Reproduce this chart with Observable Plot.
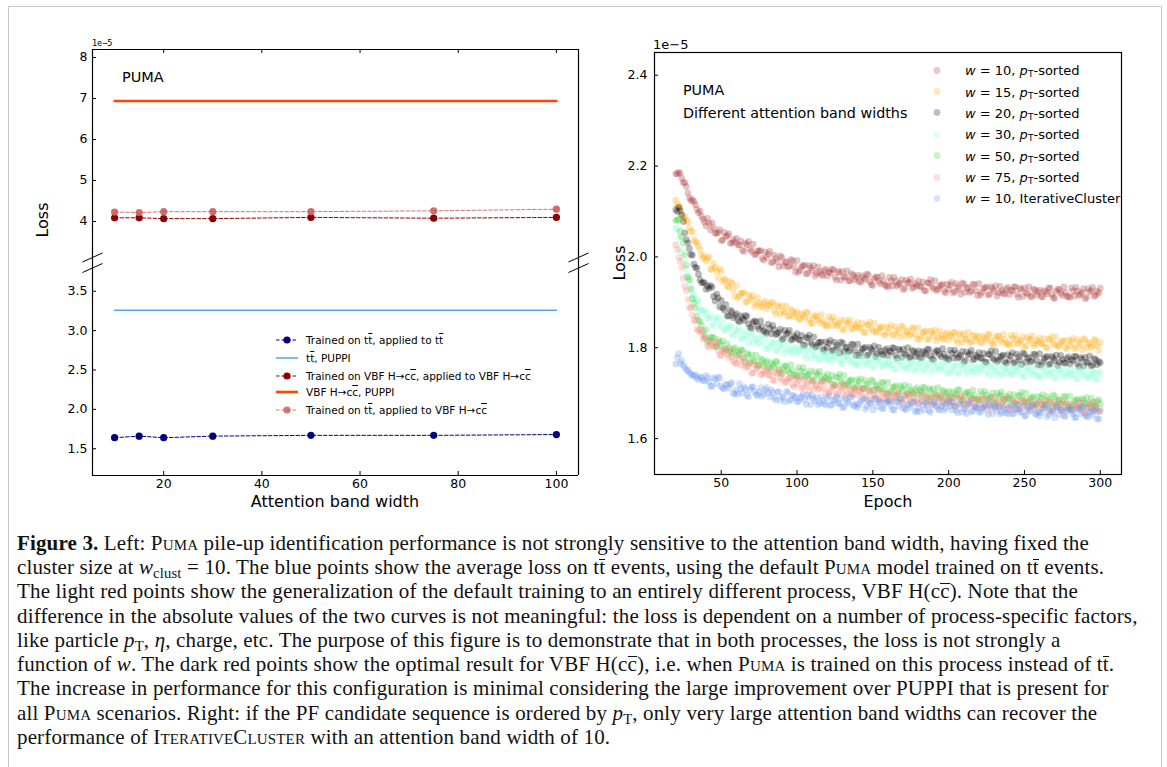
<!DOCTYPE html>
<html>
<head>
<meta charset="utf-8">
<script src="https://cdn.jsdelivr.net/npm/d3@7"></script>
<script src="https://cdn.jsdelivr.net/npm/@observablehq/plot@0.6"></script>
<style>
  html, body { margin: 0; padding: 0; background: #fff; }
  body { width: 1167px; height: 767px; overflow: hidden; position: relative; font-family: "DejaVu Sans", sans-serif; color: #000; }
  .abs { position: absolute; white-space: nowrap; }
  .ov { text-decoration: overline; }
  .ovc { display: inline-block; border-top: 1px solid #111; line-height: 0.68em; }
  .cap { position: absolute; left: 17px; font-family: "Liberation Serif", "DejaVu Serif", serif; font-size: 21px; letter-spacing: 0.15px; line-height: 24px; white-space: nowrap; color: #111; }
  .sc { font-variant: small-caps; }
  .leg { position: absolute; font-size: 10.5px; white-space: nowrap; display: flex; align-items: center; transform: translateY(-50%); }
  .rleg { position: absolute; font-size: 13px; white-space: nowrap; display: flex; align-items: center; transform: translateY(-50%); }
  sub { font-size: 70%; vertical-align: -0.25em; line-height: 0; }
</style>
</head>
<body>
<div class="abs" style="left:8px;top:6px;width:1152px;height:800px;border:1px solid #c9c9c9;"></div>
<div id="lt" class="abs" style="left:52px;top:44px;"></div>
<div id="lb" class="abs" style="left:52px;top:262px;"></div>
<div id="rp" class="abs" style="left:614px;top:47px;"></div>

<div class="abs" style="left:92px;top:38px;font-family:'DejaVu Sans Mono',monospace;font-size:8.5px;">1e−5</div>
<div class="abs" style="left:653px;top:37px;font-size:13px;">1e−5</div>

<div class="abs" style="left:122px;top:69px;font-size:14.5px;">PUMA</div>
<div class="abs" style="left:683px;top:82px;font-size:14.3px;">PUMA</div>
<div class="abs" style="left:683px;top:105px;font-size:14.3px;">Different attention band widths</div>

<div class="abs" style="left:42px;top:220px;font-size:16px;transform:translate(-50%,-50%) rotate(-90deg);">Loss</div>
<div class="abs" style="left:619px;top:263px;font-size:16px;transform:translate(-50%,-50%) rotate(-90deg);">Loss</div>
<div class="abs" style="left:335px;top:501px;font-size:16px;transform:translate(-50%,-50%);">Attention band width</div>
<div class="abs" style="left:888px;top:501px;font-size:16px;transform:translate(-50%,-50%);">Epoch</div>

<div id="leftLegend"></div>
<div id="rightLegend"></div>

<div class="cap" style="top:531px;"><b>Figure 3.</b> Left: <span class="sc">Puma</span> pile-up identification performance is not strongly sensitive to the attention band width, having fixed the</div>
<div class="cap" style="top:555px;">cluster size at <i>w</i><sub>clust</sub> = 10. The blue points show the average loss on t<span class="ovc">t</span> events, using the default <span class="sc">Puma</span> model trained on t<span class="ovc">t</span> events.</div>
<div class="cap" style="top:579px;">The light red points show the generalization of the default training to an entirely different process, VBF H(c<span class="ovc">c</span>). Note that the</div>
<div class="cap" style="top:604px;">difference in the absolute values of the two curves is not meaningful: the loss is dependent on a number of process-specific factors,</div>
<div class="cap" style="top:628px;">like particle <i>p</i><sub>T</sub>, <i>η</i>, charge, etc. The purpose of this figure is to demonstrate that in both processes, the loss is not strongly a</div>
<div class="cap" style="top:652px;">function of <i>w</i>. The dark red points show the optimal result for VBF H(c<span class="ovc">c</span>), i.e. when <span class="sc">Puma</span> is trained on this process instead of t<span class="ovc">t</span>.</div>
<div class="cap" style="top:676px;">The increase in performance for this configuration is minimal considering the large improvement over PUPPI that is present for</div>
<div class="cap" style="top:701px;">all <span class="sc">Puma</span> scenarios. Right: if the PF candidate sequence is ordered by <i>p</i><sub>T</sub>, only very large attention band widths can recover the</div>
<div class="cap" style="top:725px;">performance of <span class="sc">IterativeCluster</span> with an attention band width of 10.</div>

<script>
// ---------------- Left panel data ----------------
const bandWidths = [10, 15, 20, 30, 50, 75, 100];
const lossTTonTT   = [1.64, 1.66, 1.64, 1.66, 1.67, 1.67, 1.68];
const lossVBFonVBF = [4.09, 4.09, 4.07, 4.07, 4.10, 4.08, 4.10];
const lossTTonVBF  = [4.23, 4.22, 4.24, 4.24, 4.24, 4.26, 4.30];
const puppiTT  = 3.26;
const puppiVBF = 6.94;
const leftXTicks = [20, 40, 60, 80, 100];
const leftTopYTicks = [4, 5, 6, 7, 8];
const leftBotYTicks = [1.5, 2.0, 2.5, 3.0, 3.5];
const leftLegendLabels = [
  "Trained on t<span class='ov'>t</span>, applied to t<span class='ov'>t</span>",
  "t<span class='ov'>t</span>, PUPPI",
  "Trained on VBF H→c<span class='ov'>c</span>, applied to VBF H→c<span class='ov'>c</span>",
  "VBF H→c<span class='ov'>c</span>, PUPPI",
  "Trained on t<span class='ov'>t</span>, applied to VBF H→c<span class='ov'>c</span>"
];

// ---------------- Right panel data (loss in units of 1e-5) ----------------
// even epochs 20,22,...,300 and odd epochs 21,23,...,299
const epochsEven = d3.range(20, 301, 2);
const epochsOdd = d3.range(21, 300, 2);
const w10ptEven = [
2.183,2.186,2.173,2.163,2.141,2.124,2.122,2.105,2.101,2.083,
2.068,2.074,2.075,2.052,2.054,2.036,2.054,2.046,2.030,2.038,
2.041,2.026,2.015,2.030,2.034,2.012,2.005,2.013,2.014,1.993,
1.999,2.012,1.989,1.997,1.978,1.999,1.988,1.978,1.994,1.979,
1.992,1.971,1.981,1.963,1.981,1.970,1.958,1.978,1.962,1.970,
1.958,1.965,1.972,1.949,1.965,1.968,1.955,1.947,1.963,1.949,
1.960,1.944,1.954,1.962,1.946,1.937,1.956,1.946,1.959,1.938,
1.934,1.947,1.955,1.936,1.942,1.928,1.949,1.944,1.931,1.941,
1.947,1.934,1.926,1.943,1.950,1.930,1.926,1.936,1.940,1.921,
1.929,1.944,1.924,1.934,1.918,1.940,1.931,1.922,1.940,1.926,
1.941,1.922,1.932,1.916,1.934,1.925,1.914,1.935,1.920,1.929,
1.917,1.925,1.934,1.911,1.928,1.932,1.919,1.912,1.929,1.916,
1.927,1.912,1.923,1.932,1.917,1.909,1.929,1.920,1.934,1.914,
1.911,1.925,1.933,1.915,1.922,1.908,1.930,1.926,1.913,1.924,
1.931];
const w10ptOdd = [
2.183,2.184,2.164,2.155,2.130,2.126,2.115,2.097,2.090,2.077,
2.085,2.059,2.064,2.052,2.060,2.037,2.045,2.051,2.031,2.032,
2.027,2.035,2.012,2.027,2.017,2.028,2.006,2.013,1.997,2.011,
2.006,1.987,2.004,1.990,2.002,1.980,1.989,1.980,1.992,1.967,
1.966,1.978,1.982,1.964,1.976,1.981,1.964,1.968,1.959,1.973,
1.967,1.973,1.955,1.968,1.949,1.956,1.969,1.948,1.960,1.955,
1.946,1.958,1.950,1.961,1.939,1.952,1.955,1.941,1.947,1.936,
1.955,1.936,1.947,1.939,1.950,1.931,1.942,1.951,1.934,1.937,
1.935,1.945,1.925,1.942,1.935,1.948,1.929,1.938,1.925,1.940,
1.938,1.921,1.941,1.929,1.943,1.922,1.933,1.925,1.939,1.915,
1.916,1.930,1.934,1.918,1.930,1.937,1.921,1.926,1.918,1.933,
1.927,1.934,1.918,1.931,1.913,1.921,1.934,1.914,1.927,1.923,
1.913,1.926,1.919,1.931,1.910,1.924,1.928,1.915,1.922,1.912,
1.932,1.914,1.925,1.918,1.930,1.911,1.923,1.933,1.916,1.920];
const w15ptEven = [
2.125,2.111,2.093,2.089,2.077,2.056,2.038,2.031,2.016,1.997,
1.991,2.000,1.973,1.977,1.954,1.968,1.951,1.935,1.946,1.927,
1.937,1.914,1.921,1.901,1.917,1.905,1.891,1.910,1.892,1.899,
1.886,1.892,1.899,1.875,1.890,1.892,1.878,1.869,1.884,1.869,
1.879,1.862,1.871,1.879,1.862,1.853,1.871,1.861,1.873,1.852,
1.848,1.861,1.868,1.848,1.854,1.839,1.860,1.855,1.841,1.851,
1.856,1.843,1.834,1.851,1.857,1.837,1.833,1.843,1.846,1.827,
1.834,1.850,1.829,1.839,1.823,1.845,1.835,1.827,1.844,1.830,
1.844,1.825,1.835,1.818,1.837,1.827,1.815,1.837,1.821,1.829,
1.817,1.825,1.833,1.811,1.827,1.831,1.819,1.811,1.828,1.815,
1.826,1.811,1.821,1.830,1.815,1.806,1.826,1.817,1.830,1.810,
1.806,1.820,1.827,1.809,1.816,1.801,1.823,1.819,1.805,1.816,
1.821,1.809,1.801,1.819,1.825,1.806,1.802,1.812,1.816,1.798,
1.805,1.821,1.801,1.812,1.796,1.818,1.809,1.801,1.818,1.805,
1.811];
const w15ptOdd = [
2.115,2.109,2.086,2.081,2.064,2.056,2.033,2.024,2.004,2.002,
1.996,1.973,1.986,1.968,1.974,1.946,1.949,1.934,1.942,1.913,
1.910,1.920,1.921,1.901,1.911,1.915,1.896,1.899,1.889,1.902,
1.895,1.900,1.882,1.894,1.874,1.880,1.892,1.870,1.881,1.875,
1.864,1.875,1.866,1.877,1.854,1.867,1.869,1.855,1.860,1.849,
1.868,1.849,1.859,1.850,1.861,1.841,1.852,1.861,1.843,1.846,
1.844,1.854,1.833,1.850,1.842,1.855,1.836,1.845,1.831,1.846,
1.843,1.827,1.846,1.834,1.848,1.827,1.837,1.830,1.843,1.819,
1.819,1.833,1.837,1.820,1.833,1.839,1.822,1.828,1.819,1.833,
1.827,1.834,1.817,1.831,1.812,1.820,1.834,1.813,1.826,1.822,
1.812,1.825,1.817,1.829,1.808,1.821,1.825,1.812,1.818,1.808,
1.827,1.809,1.819,1.812,1.824,1.804,1.816,1.826,1.808,1.812,
1.809,1.820,1.800,1.817,1.810,1.824,1.805,1.814,1.801,1.817,
1.814,1.798,1.818,1.807,1.820,1.800,1.811,1.804,1.817,1.794];
const w20ptEven = [
2.104,2.109,2.092,2.053,2.031,2.005,1.984,1.975,1.950,1.944,
1.929,1.931,1.933,1.903,1.910,1.904,1.883,1.870,1.883,1.866,
1.875,1.857,1.865,1.871,1.853,1.842,1.859,1.847,1.859,1.837,
1.832,1.843,1.849,1.829,1.834,1.818,1.838,1.832,1.817,1.826,
1.831,1.817,1.807,1.823,1.828,1.807,1.801,1.811,1.813,1.794,
1.801,1.816,1.795,1.805,1.788,1.810,1.800,1.791,1.808,1.794,
1.808,1.789,1.799,1.783,1.801,1.792,1.780,1.801,1.786,1.794,
1.783,1.791,1.799,1.777,1.794,1.797,1.785,1.778,1.794,1.781,
1.793,1.778,1.789,1.797,1.782,1.774,1.794,1.785,1.798,1.778,
1.774,1.788,1.795,1.777,1.784,1.769,1.791,1.787,1.773,1.784,
1.789,1.777,1.769,1.786,1.793,1.774,1.770,1.780,1.784,1.766,
1.773,1.789,1.769,1.780,1.763,1.786,1.777,1.769,1.786,1.773,
1.787,1.768,1.779,1.763,1.781,1.772,1.761,1.783,1.767,1.776,
1.764,1.772,1.781,1.759,1.775,1.779,1.767,1.760,1.776,1.763,
1.767];
const w20ptOdd = [
2.100,2.102,2.078,2.038,2.018,2.004,1.977,1.962,1.943,1.943,
1.936,1.937,1.913,1.918,1.890,1.888,1.895,1.870,1.879,1.871,
1.860,1.870,1.860,1.869,1.845,1.856,1.857,1.841,1.846,1.834,
1.852,1.831,1.840,1.831,1.841,1.820,1.830,1.838,1.819,1.822,
1.818,1.827,1.805,1.821,1.812,1.824,1.804,1.812,1.798,1.813,
1.810,1.793,1.812,1.800,1.813,1.792,1.802,1.794,1.807,1.783,
1.783,1.797,1.801,1.785,1.797,1.804,1.787,1.792,1.784,1.798,
1.793,1.800,1.783,1.797,1.779,1.786,1.800,1.780,1.792,1.788,
1.779,1.792,1.785,1.796,1.775,1.789,1.793,1.780,1.786,1.776,
1.795,1.777,1.787,1.780,1.792,1.772,1.784,1.794,1.776,1.780,
1.777,1.788,1.768,1.785,1.778,1.792,1.773,1.782,1.769,1.785,
1.782,1.766,1.786,1.774,1.788,1.768,1.779,1.771,1.785,1.762,
1.762,1.776,1.781,1.765,1.777,1.784,1.768,1.774,1.766,1.780,
1.774,1.781,1.765,1.778,1.760,1.768,1.782,1.762,1.774,1.770];
const w30ptEven = [
2.063,2.043,2.009,1.975,1.952,1.928,1.916,1.905,1.885,1.883,
1.881,1.864,1.851,1.865,1.868,1.845,1.838,1.846,1.847,1.826,
1.831,1.844,1.821,1.829,1.810,1.830,1.819,1.809,1.825,1.810,
1.823,1.802,1.811,1.793,1.810,1.799,1.787,1.807,1.791,1.799,
1.787,1.793,1.801,1.777,1.793,1.796,1.782,1.774,1.790,1.776,
1.787,1.771,1.781,1.789,1.773,1.764,1.783,1.773,1.786,1.765,
1.761,1.774,1.782,1.763,1.769,1.755,1.776,1.771,1.758,1.768,
1.774,1.761,1.753,1.770,1.777,1.758,1.753,1.764,1.767,1.749,
1.756,1.772,1.751,1.762,1.746,1.768,1.759,1.751,1.768,1.755,
1.769,1.750,1.760,1.744,1.763,1.753,1.742,1.764,1.748,1.757,
1.745,1.753,1.762,1.739,1.756,1.760,1.748,1.740,1.757,1.744,
1.755,1.740,1.751,1.759,1.744,1.736,1.756,1.746,1.760,1.740,
1.736,1.750,1.758,1.739,1.746,1.732,1.754,1.749,1.736,1.747,
1.752,1.740,1.732,1.749,1.756,1.737,1.733,1.743,1.747,1.729,
1.743];
const w30ptOdd = [
2.061,2.018,1.992,1.962,1.947,1.918,1.908,1.902,1.882,1.876,
1.866,1.872,1.848,1.862,1.851,1.861,1.839,1.846,1.830,1.843,
1.838,1.819,1.836,1.822,1.833,1.811,1.820,1.811,1.823,1.798,
1.797,1.809,1.812,1.794,1.805,1.811,1.793,1.798,1.788,1.802,
1.796,1.801,1.784,1.796,1.777,1.784,1.796,1.775,1.787,1.782,
1.773,1.785,1.777,1.788,1.766,1.779,1.782,1.768,1.774,1.763,
1.782,1.763,1.774,1.766,1.777,1.758,1.769,1.778,1.761,1.764,
1.762,1.772,1.752,1.769,1.762,1.776,1.756,1.766,1.752,1.768,
1.765,1.749,1.768,1.757,1.771,1.750,1.761,1.754,1.767,1.744,
1.744,1.758,1.762,1.746,1.759,1.765,1.749,1.755,1.746,1.761,
1.755,1.762,1.746,1.759,1.741,1.749,1.763,1.742,1.755,1.751,
1.741,1.754,1.747,1.758,1.737,1.751,1.755,1.741,1.748,1.738,
1.757,1.739,1.750,1.742,1.754,1.735,1.747,1.756,1.739,1.743,
1.740,1.751,1.731,1.748,1.741,1.755,1.736,1.745,1.732,1.748];
const w50ptEven = [
2.080,2.082,2.044,2.005,1.956,1.930,1.898,1.870,1.857,1.837,
1.840,1.816,1.823,1.803,1.818,1.805,1.790,1.809,1.791,1.797,
1.783,1.788,1.794,1.769,1.783,1.785,1.770,1.761,1.776,1.761,
1.771,1.754,1.763,1.770,1.753,1.743,1.761,1.750,1.763,1.741,
1.737,1.749,1.756,1.736,1.742,1.726,1.747,1.742,1.727,1.737,
1.742,1.729,1.719,1.736,1.742,1.722,1.717,1.726,1.729,1.710,
1.717,1.732,1.711,1.721,1.704,1.726,1.716,1.707,1.724,1.710,
1.724,1.704,1.714,1.697,1.716,1.706,1.694,1.715,1.700,1.708,
1.696,1.704,1.712,1.690,1.706,1.710,1.697,1.690,1.706,1.693,
1.704,1.689,1.699,1.708,1.692,1.684,1.703,1.694,1.707,1.687,
1.683,1.697,1.704,1.686,1.693,1.678,1.700,1.696,1.682,1.693,
1.698,1.686,1.677,1.695,1.702,1.682,1.678,1.689,1.692,1.674,
1.681,1.697,1.676,1.687,1.671,1.693,1.684,1.676,1.693,1.680,
1.694,1.675,1.685,1.669,1.688,1.678,1.667,1.689,1.673,1.682,
1.677];
const w50ptOdd = [
2.082,2.056,2.031,1.982,1.950,1.908,1.888,1.861,1.850,1.826,
1.813,1.822,1.823,1.803,1.812,1.815,1.796,1.799,1.788,1.800,
1.792,1.796,1.777,1.788,1.767,1.773,1.784,1.762,1.773,1.767,
1.756,1.767,1.758,1.768,1.745,1.757,1.759,1.745,1.750,1.739,
1.757,1.738,1.747,1.739,1.749,1.729,1.739,1.748,1.730,1.733,
1.730,1.739,1.718,1.735,1.727,1.739,1.719,1.728,1.714,1.729,
1.726,1.709,1.728,1.716,1.729,1.708,1.718,1.710,1.723,1.699,
1.699,1.712,1.716,1.699,1.712,1.718,1.701,1.706,1.698,1.712,
1.706,1.713,1.696,1.710,1.691,1.699,1.712,1.692,1.704,1.700,
1.690,1.703,1.695,1.707,1.685,1.699,1.702,1.689,1.695,1.685,
1.704,1.686,1.696,1.689,1.701,1.681,1.693,1.703,1.685,1.689,
1.686,1.697,1.676,1.694,1.687,1.700,1.681,1.691,1.677,1.693,
1.690,1.674,1.693,1.682,1.696,1.675,1.686,1.679,1.692,1.669,
1.669,1.683,1.687,1.671,1.684,1.690,1.674,1.680,1.671,1.686];
const w75ptEven = [
2.027,1.999,1.977,1.935,1.906,1.889,1.860,1.841,1.840,1.820,
1.822,1.802,1.808,1.813,1.794,1.782,1.798,1.785,1.795,1.771,
1.765,1.775,1.779,1.757,1.761,1.744,1.763,1.756,1.740,1.749,
1.753,1.739,1.729,1.745,1.750,1.729,1.723,1.732,1.734,1.714,
1.720,1.734,1.713,1.722,1.705,1.727,1.717,1.708,1.725,1.711,
1.725,1.705,1.715,1.698,1.716,1.706,1.694,1.715,1.699,1.707,
1.695,1.702,1.710,1.687,1.703,1.706,1.694,1.686,1.702,1.688,
1.699,1.684,1.694,1.703,1.687,1.679,1.698,1.689,1.702,1.682,
1.678,1.692,1.699,1.681,1.687,1.673,1.694,1.690,1.676,1.687,
1.692,1.680,1.671,1.689,1.696,1.676,1.672,1.683,1.686,1.668,
1.675,1.691,1.671,1.681,1.665,1.688,1.679,1.670,1.688,1.675,
1.689,1.670,1.681,1.664,1.683,1.674,1.663,1.684,1.669,1.678,
1.666,1.674,1.683,1.660,1.677,1.681,1.669,1.662,1.678,1.665,
1.676,1.661,1.672,1.680,1.665,1.657,1.677,1.668,1.681,1.661,
1.666];
const w75ptOdd = [
2.016,1.990,1.953,1.926,1.888,1.872,1.860,1.837,1.832,1.821,
1.805,1.813,1.802,1.810,1.785,1.795,1.795,1.778,1.781,1.767,
1.784,1.762,1.769,1.758,1.767,1.745,1.754,1.761,1.742,1.744,
1.740,1.749,1.727,1.743,1.734,1.746,1.725,1.733,1.718,1.732,
1.728,1.711,1.729,1.717,1.730,1.709,1.719,1.711,1.724,1.700,
1.700,1.713,1.717,1.700,1.712,1.718,1.701,1.706,1.697,1.711,
1.705,1.711,1.694,1.707,1.688,1.695,1.709,1.688,1.700,1.695,
1.685,1.698,1.690,1.702,1.680,1.694,1.697,1.684,1.690,1.680,
1.699,1.681,1.691,1.684,1.695,1.676,1.687,1.697,1.679,1.683,
1.680,1.691,1.670,1.688,1.681,1.694,1.675,1.685,1.671,1.687,
1.684,1.668,1.688,1.676,1.690,1.670,1.681,1.673,1.687,1.664,
1.664,1.678,1.683,1.666,1.679,1.686,1.670,1.675,1.667,1.682,
1.676,1.683,1.667,1.680,1.662,1.670,1.684,1.664,1.676,1.672,
1.662,1.675,1.668,1.679,1.658,1.672,1.676,1.663,1.669,1.659];
const w10icEven = [
1.764,1.787,1.772,1.757,1.751,1.742,1.738,1.733,1.736,1.728,
1.739,1.725,1.715,1.731,1.736,1.715,1.709,1.718,1.720,1.700,
1.707,1.721,1.700,1.709,1.692,1.714,1.704,1.695,1.712,1.698,
1.712,1.692,1.702,1.685,1.703,1.693,1.681,1.702,1.686,1.694,
1.682,1.689,1.698,1.675,1.691,1.695,1.682,1.674,1.691,1.677,
1.689,1.673,1.684,1.692,1.677,1.668,1.688,1.678,1.692,1.671,
1.668,1.682,1.689,1.671,1.678,1.663,1.685,1.681,1.667,1.678,
1.684,1.672,1.663,1.681,1.688,1.668,1.664,1.675,1.678,1.660,
1.668,1.684,1.663,1.674,1.658,1.680,1.671,1.663,1.680,1.667,
1.682,1.663,1.673,1.657,1.676,1.666,1.655,1.677,1.661,1.670,
1.659,1.667,1.675,1.653,1.670,1.673,1.661,1.654,1.670,1.657,
1.669,1.654,1.664,1.673,1.658,1.649,1.669,1.660,1.673,1.653,
1.650,1.664,1.672,1.653,1.660,1.646,1.668,1.663,1.650,1.661,
1.667,1.655,1.646,1.664,1.671,1.652,1.648,1.658,1.662,1.644,
1.660];
const w10icOdd = [
1.779,1.766,1.762,1.750,1.746,1.739,1.741,1.730,1.734,1.727,
1.734,1.716,1.734,1.721,1.733,1.711,1.720,1.711,1.723,1.698,
1.698,1.710,1.714,1.696,1.708,1.714,1.697,1.702,1.693,1.707,
1.701,1.707,1.690,1.703,1.684,1.691,1.704,1.683,1.695,1.690,
1.681,1.693,1.685,1.696,1.675,1.688,1.691,1.678,1.684,1.674,
1.694,1.675,1.686,1.678,1.690,1.670,1.682,1.691,1.674,1.677,
1.675,1.686,1.665,1.683,1.676,1.689,1.670,1.680,1.666,1.682,
1.680,1.664,1.683,1.672,1.686,1.665,1.676,1.669,1.682,1.659,
1.660,1.674,1.678,1.662,1.675,1.681,1.665,1.671,1.662,1.677,
1.672,1.679,1.662,1.676,1.658,1.665,1.679,1.659,1.671,1.667,
1.658,1.671,1.663,1.675,1.654,1.667,1.671,1.658,1.664,1.654,
1.674,1.656,1.666,1.659,1.671,1.651,1.663,1.673,1.655,1.659,
1.657,1.668,1.648,1.665,1.658,1.672,1.653,1.662,1.649,1.665,
1.663,1.647,1.666,1.655,1.669,1.649,1.660,1.652,1.666,1.643];
const seriesNames = [
  "<i>w</i> = 10, <i>p</i><sub>T</sub>-sorted",
  "<i>w</i> = 15, <i>p</i><sub>T</sub>-sorted",
  "<i>w</i> = 20, <i>p</i><sub>T</sub>-sorted",
  "<i>w</i> = 30, <i>p</i><sub>T</sub>-sorted",
  "<i>w</i> = 50, <i>p</i><sub>T</sub>-sorted",
  "<i>w</i> = 75, <i>p</i><sub>T</sub>-sorted",
  "<i>w</i> = 10, IterativeCluster"
];
const seriesColors = ["brown", "orange", "black", "aquamarine", "limegreen", "salmon", "cornflowerblue"];
const seriesEven = [w10ptEven, w15ptEven, w20ptEven, w30ptEven, w50ptEven, w75ptEven, w10icEven];
const seriesOdd  = [w10ptOdd, w15ptOdd, w20ptOdd, w30ptOdd, w50ptOdd, w75ptOdd, w10icOdd];
const rightXTicks = [50, 100, 150, 200, 250, 300];
const rightYTicks = [1.6, 1.8, 2.0, 2.2, 2.4];

// ---------------- Styling constants ----------------
const navy = "#000080", puppiBlue = "#55a6e0", darkRed = "#8b0000", orangeRed = "#ff4500", lightRed = "#cd5c5c";
const axisStyle = {fontFamily: "DejaVu Sans", fontSize: "12.5px", background: "transparent", overflow: "visible", color: "black"};
const xDomL = [5.5, 104.5];
const topDom = [3.0, 8.195];
const botDom = [1.16, 3.865];
const frameWL = 538 - 40 - 12;
const frameHL = 213;

const mk = (ys) => bandWidths.map((w, i) => ({w, v: ys[i]}));
const flat = (v) => bandWidths.map(w => ({w, v}));

// break marks (drawn in data space, just around the spines)
const dxB = 10 / (frameWL / (xDomL[1] - xDomL[0]));
function breakMarks(yc, dy) {
  return [xDomL[0], xDomL[1]].map(x => ({x1: x - dxB, y1: yc - dy, x2: x + dxB, y2: yc + dy}));
}
const topPx = frameHL / (topDom[1] - topDom[0]);
const botPx = frameHL / (botDom[1] - botDom[0]);

const leftTop = Plot.plot({
  width: 538, height: 218, marginLeft: 40, marginRight: 12, marginTop: 5, marginBottom: 0,
  style: axisStyle,
  x: {domain: xDomL, axis: null},
  y: {domain: topDom, ticks: leftTopYTicks, tickFormat: "d", tickSize: 0, tickPadding: 5, label: null},
  marks: [
    Plot.ruleX(xDomL, {stroke: "black", strokeWidth: 1.2}),
    Plot.ruleY([topDom[1]], {stroke: "black", strokeWidth: 1.2}),
    Plot.tickY(leftTopYTicks, {y: d => d, insetRight: frameWL - 4, stroke: "black"}),
    Plot.tickX(leftXTicks, {x: d => d, insetBottom: frameHL - 4, stroke: "black"}),
    Plot.line(flat(puppiVBF), {x: "w", y: "v", stroke: orangeRed, strokeWidth: 2.6}),
    Plot.line(mk(lossVBFonVBF), {x: "w", y: "v", stroke: darkRed, strokeWidth: 1, strokeDasharray: "3.5,2"}),
    Plot.dot(mk(lossVBFonVBF), {x: "w", y: "v", r: 3.6, fill: darkRed}),
    Plot.line(mk(lossTTonVBF), {x: "w", y: "v", stroke: lightRed, strokeOpacity: 0.85, strokeWidth: 1, strokeDasharray: "3.5,2"}),
    Plot.dot(mk(lossTTonVBF), {x: "w", y: "v", r: 3.6, fill: lightRed, fillOpacity: 0.9}),
    Plot.link(breakMarks(topDom[0] + 5 / topPx, 4.5 / topPx), {x1: "x1", y1: "y1", x2: "x2", y2: "y2", stroke: "black", strokeWidth: 1})
  ]
});
document.getElementById("lt").appendChild(leftTop);

const leftBot = Plot.plot({
  width: 538, height: 253, marginLeft: 40, marginRight: 12, marginTop: 0, marginBottom: 40,
  style: axisStyle,
  x: {domain: xDomL, ticks: leftXTicks, tickSize: 0, tickPadding: 4, label: null},
  y: {domain: botDom, ticks: leftBotYTicks, tickFormat: ".1f", tickSize: 0, tickPadding: 5, label: null},
  marks: [
    Plot.ruleX(xDomL, {stroke: "black", strokeWidth: 1.2}),
    Plot.ruleY([botDom[0]], {stroke: "black", strokeWidth: 1.2}),
    Plot.tickY(leftBotYTicks, {y: d => d, insetRight: frameWL - 4, stroke: "black"}),
    Plot.tickX(leftXTicks, {x: d => d, insetTop: frameHL - 4, stroke: "black"}),
    Plot.line(flat(puppiTT), {x: "w", y: "v", stroke: puppiBlue, strokeWidth: 1.5}),
    Plot.line(mk(lossTTonTT), {x: "w", y: "v", stroke: navy, strokeWidth: 1, strokeDasharray: "3.5,2"}),
    Plot.dot(mk(lossTTonTT), {x: "w", y: "v", r: 3.6, fill: navy}),
    Plot.link(breakMarks(botDom[1] - 5.5 / botPx, 4.5 / botPx), {x1: "x1", y1: "y1", x2: "x2", y2: "y2", stroke: "black", strokeWidth: 1})
  ]
});
document.getElementById("lb").appendChild(leftBot);

// Right panel
const frameWR = 517 - 40 - 10;
const frameHR = 467 - 5 - 40;
const seriesRows = seriesEven.map((ev, s) => {
  const r = [];
  ev.forEach((v, i) => r.push({epoch: epochsEven[i], loss: v}));
  seriesOdd[s].forEach((v, i) => r.push({epoch: epochsOdd[i], loss: v}));
  return r.sort((a, b) => a.epoch - b.epoch);
});
const right = Plot.plot({
  width: 517, height: 467, marginLeft: 40, marginRight: 10, marginTop: 5, marginBottom: 40,
  style: axisStyle,
  x: {domain: [6, 314], ticks: rightXTicks, tickSize: 0, tickPadding: 4, label: null},
  y: {domain: [1.521, 2.45], ticks: rightYTicks, tickFormat: ".1f", tickSize: 0, tickPadding: 7, label: null},
  marks: [
    Plot.frame({stroke: "black", strokeWidth: 1.2}),
    Plot.tickY(rightYTicks, {y: d => d, insetRight: frameWR - 4, stroke: "black"}),
    Plot.tickX(rightXTicks, {x: d => d, insetTop: frameHR - 4, stroke: "black"}),
    ...seriesRows.map((rowsS, s) => Plot.dot(rowsS, {
      x: "epoch", y: "loss", r: 3.4, fill: seriesColors[s], fillOpacity: 0.28, stroke: "none"
    }))
  ]
});
document.getElementById("rp").appendChild(right);

// Left legend
const leftLeg = document.getElementById("leftLegend");
const legendRowY = [340, 358, 375.5, 392, 410];
const legendSw = [
  {c: navy, dash: true, dot: true, w: 1, o: 1},
  {c: puppiBlue, dash: false, dot: false, w: 1.5, o: 1},
  {c: darkRed, dash: true, dot: true, w: 1, o: 1},
  {c: orangeRed, dash: false, dot: false, w: 2.6, o: 1},
  {c: lightRed, dash: true, dot: true, w: 1, o: 0.85}
];
leftLegendLabels.forEach((lab, i) => {
  const sw = legendSw[i];
  const row = document.createElement("div");
  row.className = "leg";
  row.style.left = "275px";
  row.style.top = legendRowY[i] + "px";
  row.innerHTML = `<svg width="24" height="10" style="margin-right:7px;overflow:visible">
     <line x1="1" y1="5" x2="23" y2="5" stroke="${sw.c}" stroke-opacity="${sw.o}" stroke-width="${sw.w}" ${sw.dash ? 'stroke-dasharray="3.5,2"' : ''}/>
     ${sw.dot ? `<circle cx="12" cy="5" r="3.6" fill="${sw.c}" fill-opacity="${sw.o}"/>` : ''}
   </svg><span>${lab}</span>`;
  leftLeg.appendChild(row);
});

// Right legend
const rightLeg = document.getElementById("rightLegend");
const rlegY = [70, 91.5, 112.8, 134, 155.5, 177, 198.3];
seriesNames.forEach((nm, i) => {
  const row = document.createElement("div");
  row.className = "rleg";
  row.style.left = "933px";
  row.style.top = rlegY[i] + "px";
  row.innerHTML = `<svg width="10" height="10" style="margin-right:22px;overflow:visible"><circle cx="4" cy="5" r="3.4" fill="${seriesColors[i]}" fill-opacity="0.25"/></svg><span>${nm}</span>`;
  rightLeg.appendChild(row);
});
</script>
</body>
</html>
